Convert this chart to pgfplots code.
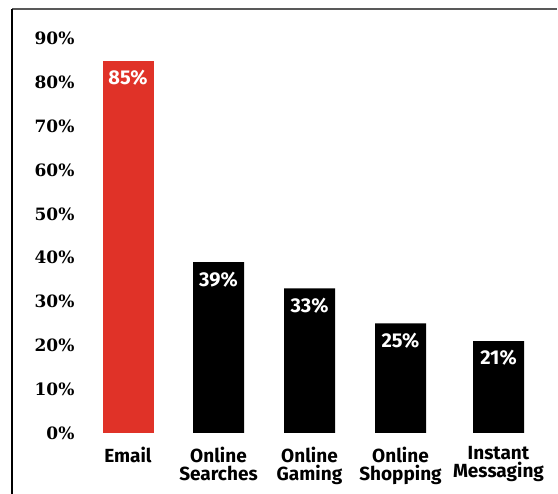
\documentclass[border=0pt]{standalone}
\usepackage{fontspec}
\usepackage{pgfplots}
\pgfplotsset{compat=1.18}
\newfontfamily\tickfont{DejaVu Serif}
\newfontfamily\catfont{Fira Sans}
\definecolor{barred}{RGB}{224,50,40}
\begin{document}
\begin{tikzpicture}[x=1pt,y=1pt]
\useasboundingbox (0,0) rectangle (558,494);
\fill[white] (0,0) rectangle (558,494);
\draw[line width=2pt, draw=black!65] (12,485) -- (557,485);
\draw[line width=1.2pt, draw=black] (12,485) -- (12,0);
\begin{axis}[
  /pgf/number format/assume math mode=true,
  at={(80pt,61pt)}, anchor=south west,
  scale only axis,
  x=1pt, y=4.38pt,
  xmin=80, xmax=557, ymin=0, ymax=91,
  axis line style={draw=none},
  tick style={draw=none},
  ytick={0,10,...,90},
  yticklabels={0\%,10\%,20\%,30\%,40\%,50\%,60\%,70\%,80\%,90\%},
  yticklabel style={font=\tickfont\bfseries\fontsize{17}{20}\selectfont, anchor=east, xshift=-2pt},
  xtick={128,218.5,309.5,400.5,498.5},
  xticklabels={Email, Online\\Searches, Online\\Gaming, Online\\Shopping, Instant\\Messaging},
  xticklabel style={font=\catfont\bfseries\fontsize{19}{18}\selectfont, align=center, anchor=north, yshift=-6pt},
  ybar, bar width=51pt, bar shift=0pt,
  nodes near coords={\pgfmathprintnumber{\pgfplotspointmeta}\%},
  every node near coord/.append style={anchor=north, yshift=-6pt, text=white, font=\catfont\bfseries\fontsize{20}{20}\selectfont},
]
\addplot[fill=barred, draw=none] coordinates {(128,85)};
\addplot[fill=black, draw=none] coordinates {(218.5,39) (309.5,33) (400.5,25) (498.5,21)};
\end{axis}
\end{tikzpicture}
\end{document}
